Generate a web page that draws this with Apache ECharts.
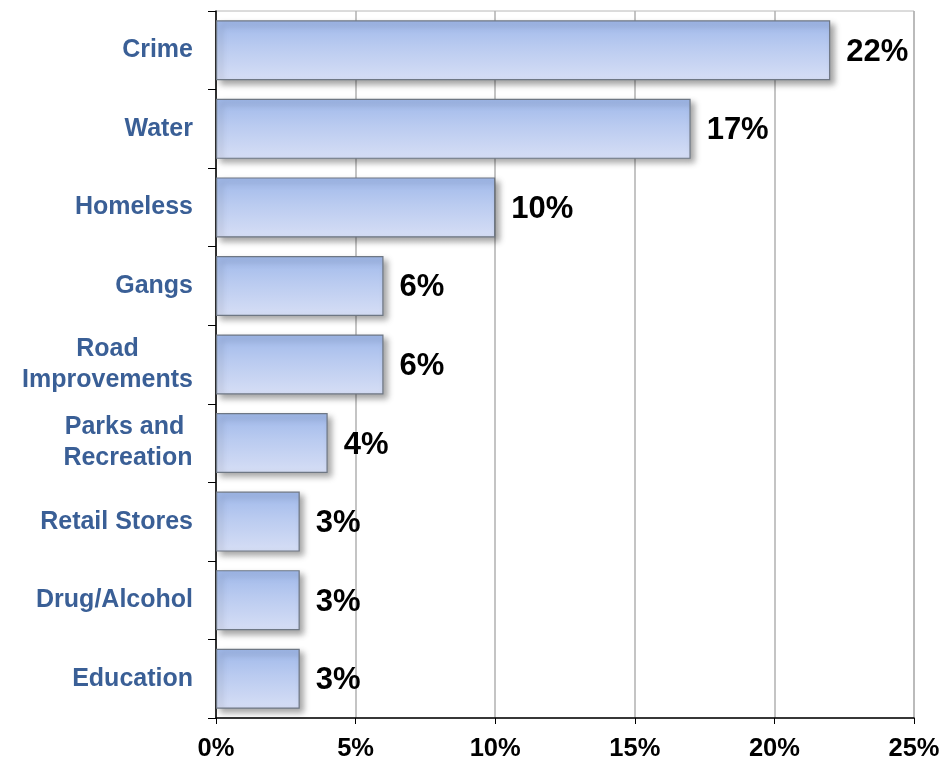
<!DOCTYPE html>
<html>
<head>
<meta charset="utf-8">
<script src="https://cdn.jsdelivr.net/npm/echarts@6/dist/echarts.min.js"></script>
<style>
  html, body { margin: 0; padding: 0; background: #ffffff; }
  #chart { width: 944px; height: 762px; }
</style>
</head>
<body>
<div id="chart"></div>
<script>
// Issue categories, top to bottom
const categories = ['Crime', 'Water', 'Homeless', 'Gangs', 'Road\nImprovements',
  'Parks and \nRecreation', 'Retail Stores', 'Drug/Alcohol', 'Education'];
// Share of responses, percent
const shares = [22, 17, 10, 6, 6, 4, 3, 3, 3];
// Value axis ticks (percent)
const xTicks = [0, 5, 10, 15, 20, 25];

const FONT = '"Liberation Sans", Arial, sans-serif';
const CAT_SIZE = 25;
const CAT_COLOR = '#3a5f96';

// Multi-line category names: each line is centred within the block,
// and the block itself is right-aligned against the axis.
const measureCtx = document.createElement('canvas').getContext('2d');
measureCtx.font = 'bold ' + CAT_SIZE + 'px ' + FONT;
const rich = {};
const multiKey = {};
categories.forEach((name, i) => {
  if (name.indexOf('\n') < 0) return;
  const w = Math.ceil(Math.max(...name.split('\n').map(s => measureCtx.measureText(s.trim()).width)));
  const key = 'm' + i;
  multiKey[name] = key;
  rich[key] = { width: w, align: 'center', color: CAT_COLOR, fontFamily: FONT,
                fontWeight: 'bold', fontSize: CAT_SIZE, lineHeight: 31 };
});

const chart = echarts.init(document.getElementById('chart'));

chart.setOption({
  animation: false,
  backgroundColor: '#ffffff',
  grid: {
    left: 216, right: 30, top: 11, bottom: 44,
    show: true, borderColor: '#b8b8b8', borderWidth: 1, backgroundColor: 'transparent'
  },
  xAxis: {
    type: 'value',
    min: xTicks[0], max: xTicks[xTicks.length - 1], interval: 5,
    axisLine: { show: true, lineStyle: { color: '#000', width: 1.5 } },
    axisTick: { show: true, length: 6, lineStyle: { color: '#000' } },
    splitLine: { show: true, lineStyle: { color: '#b0b0b0', width: 1.5 } },
    axisLabel: {
      margin: 18, color: '#000', fontFamily: FONT, fontWeight: 'bold', fontSize: 25.5,
      formatter: v => v + '%'
    }
  },
  yAxis: {
    type: 'category',
    inverse: true,
    data: categories,
    axisLine: { show: true, lineStyle: { color: '#000', width: 1.5 } },
    axisTick: { show: true, length: 8, inside: false, lineStyle: { color: '#000' } },
    splitLine: { show: false },
    axisLabel: {
      margin: 23, color: CAT_COLOR, fontFamily: FONT, fontWeight: 'bold', fontSize: CAT_SIZE,
      lineHeight: 31,
      formatter: v => multiKey[v]
        ? v.split('\n').map(s => '{' + multiKey[v] + '|' + s + '}').join('\n')
        : v,
      rich: rich
    }
  },
  series: [{
    type: 'bar',
    data: shares,
    barWidth: 60,
    itemStyle: {
      color: new echarts.graphic.LinearGradient(0, 0, 0, 1, [
        { offset: 0, color: '#9fb8ea' },
        { offset: 0.45, color: '#bacbf0' },
        { offset: 1, color: '#d6def5' }
      ]),
      borderColor: '#6e7784',
      borderWidth: 1.2,
      shadowBlur: 6,
      shadowColor: 'rgba(0,0,0,0.35)',
      shadowOffsetX: 4,
      shadowOffsetY: 4
    },
    label: {
      show: true, position: 'right', distance: 16, offset: [0, 2],
      color: '#000', fontFamily: FONT, fontWeight: 'bold', fontSize: 31,
      formatter: p => p.value + '%'
    }
  }]
});
</script>
</body>
</html>
